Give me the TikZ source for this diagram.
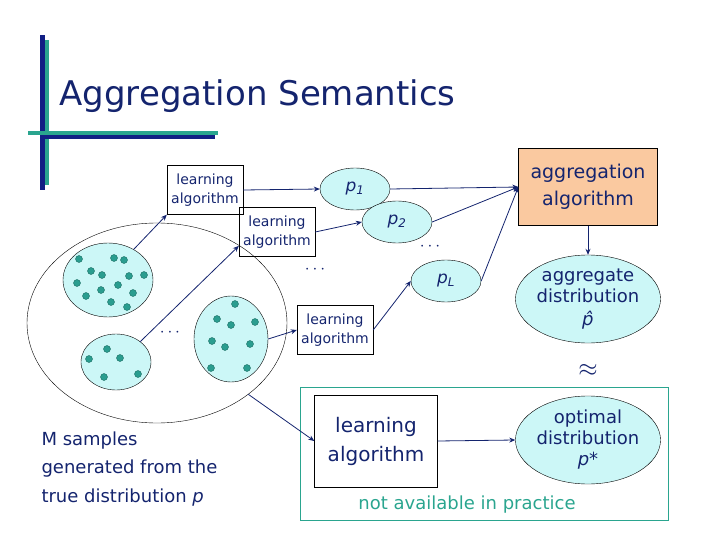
\documentclass[tikz,border=0pt]{standalone}
\usepackage{fontspec}
\setmainfont{DejaVu Sans}
\usetikzlibrary{shapes.geometric, arrows.meta, positioning}
\definecolor{navy}{HTML}{14246E}
\definecolor{teal2}{HTML}{2AA58F}
\definecolor{cyanfill}{HTML}{CCF7F7}
\definecolor{orangefill}{HTML}{FAC9A0}
\definecolor{dotfill}{HTML}{2A9D8F}
\begin{document}
\begin{tikzpicture}[x=1pt, y=-1pt, font=\color{navy}]
    % Define styles
    \tikzstyle{learnbox} = [draw, rectangle, inner sep=0pt, align=center, font=\fontsize{14}{19}\selectfont\color{navy}, minimum width=76pt, minimum height=49pt]
    \tikzstyle{bigbox} = [draw, rectangle, align=center, font=\fontsize{20}{29}\selectfont\color{navy}, minimum width=123pt, minimum height=92pt]
    \tikzstyle{pnode} = [draw, ellipse, fill=cyanfill, minimum width=70pt, minimum height=42pt, font=\fontsize{17}{17}\selectfont\itshape\color{navy}]
    \tikzstyle{distnode} = [draw, ellipse, fill=cyanfill, inner sep=0pt, align=center, minimum width=140pt, minimum height=88pt, font=\fontsize{18}{21}\selectfont\color{navy}]
    \tikzstyle{sample} = [draw, ellipse, fill=cyanfill]
    \tikzstyle{dot} = [circle, fill=dotfill, draw=dotfill!70!black, inner sep=0pt, minimum size=7pt]
    \tikzstyle{link} = [-{Stealth[length=6pt,width=5pt]}, navy, thick]

    \useasboundingbox (0,0) rectangle (720,540);

    % Title bars
    \fill[navy!85!blue] (40,35) rectangle (45,190);
    \fill[teal2] (45,40) rectangle (49,185);
    \fill[teal2] (28,131) rectangle (218,135);
    \fill[navy!85!blue] (40,135) rectangle (215,139);
    \node (title) [anchor=west, font=\fontsize{34}{36}\selectfont\color{navy}] at (56,96) {Aggregation Semantics};

    % Samples
    \node (all) [draw, ellipse, minimum width=260pt, minimum height=200pt] at (157,323) {};
    \node (setA) [sample, minimum width=90pt, minimum height=74pt] at (108,280) {};
    \node (setB) [sample, minimum width=70pt, minimum height=56pt] at (116,362) {};
    \node (setC) [sample, minimum width=74pt, minimum height=86pt] at (231,339) {};
    \foreach \p in {(79,259),(114,258),(124,260),(91,271),(102,275),(129,276),(144,275),(77,283),(118,285),(101,290),(133,293),(86,296),(111,302),(127,307),
                    (107,349),(89,359),(120,358),(104,377),(138,374),
                    (235,304),(217,319),(231,325),(255,322),(212,341),(225,347),(250,344),(211,368),(247,368)}
        \node[dot] at \p {};
    \node (dotsA) at (170,333) {\fontsize{18}{18}\selectfont$\cdots$};
    \node (samples_text) [anchor=north west, align=left, font=\fontsize{18}{28.5}\selectfont\color{navy}] at (38,428) {M samples\\generated from the\\true distribution \textit{p}};

    % Learners
    \node (learn1) [learnbox] at (205,190) {learning\\algorithm};
    \node (learn2) [learnbox] at (277,232) {learning\\algorithm};
    \node (learnL) [learnbox] at (335,330) {learning\\algorithm};
    \node (dotsB) at (315,270) {\fontsize{18}{18}\selectfont$\cdots$};

    % Distributions
    \node (p1) [pnode] at (355,189) {p\textsubscript{1}};
    \node (p2) [pnode] at (397,222) {p\textsubscript{2}};
    \node (pL) [pnode] at (446,281) {p\textsubscript{L}};
    \node (dotsC) at (430,247) {\fontsize{18}{18}\selectfont$\cdots$};

    % Aggregation
    \node (agg) [draw, rectangle, fill=orangefill, align=center, minimum width=139pt, minimum height=77pt, font=\fontsize{19}{27}\selectfont\color{navy}] at (588,187) {aggregation\\algorithm};
    \node (aggdist) [distnode] at (588,299) {aggregate\\distribution\\[2pt]\textit{\^{p}}};
    \node (approx) at (588,370) {\fontsize{24}{24}\selectfont$\approx$};

    % Ideal case
    \draw[teal2, thick] (300,387) rectangle (668,520);
    \node (learnall) [bigbox] at (376,441) {learning\\algorithm};
    \node (optdist) [distnode] at (588,440) {optimal\\distribution\\\textit{p*}};
    \node (practice) [font=\fontsize{18}{18}\selectfont\color{teal2}] at (467,505) {not available in practice};

    % CONNECTIONS
    \draw[link] (setA.50) -- (learn1.south west);
    \draw[link] (setB.40) -- (learn2.200);
    \draw[link] (setC.east) -- (learnL.west);
    \draw[link] (all.-38) -- (learnall.west);
    \draw[link] (learn1.east) -- (p1.west);
    \draw[link] (learn2.east) -- (p2.west);
    \draw[link] (learnL.east) -- (pL.west);
    \draw[link] (p1.east) -- (agg.west);
    \draw[link] (p2.east) -- (agg.west);
    \draw[link] (pL.east) -- (agg.west);
    \draw[link] (agg.south) -- (aggdist.north);
    \draw[link] (learnall.east) -- (optdist.west);
\end{tikzpicture}
\end{document}
